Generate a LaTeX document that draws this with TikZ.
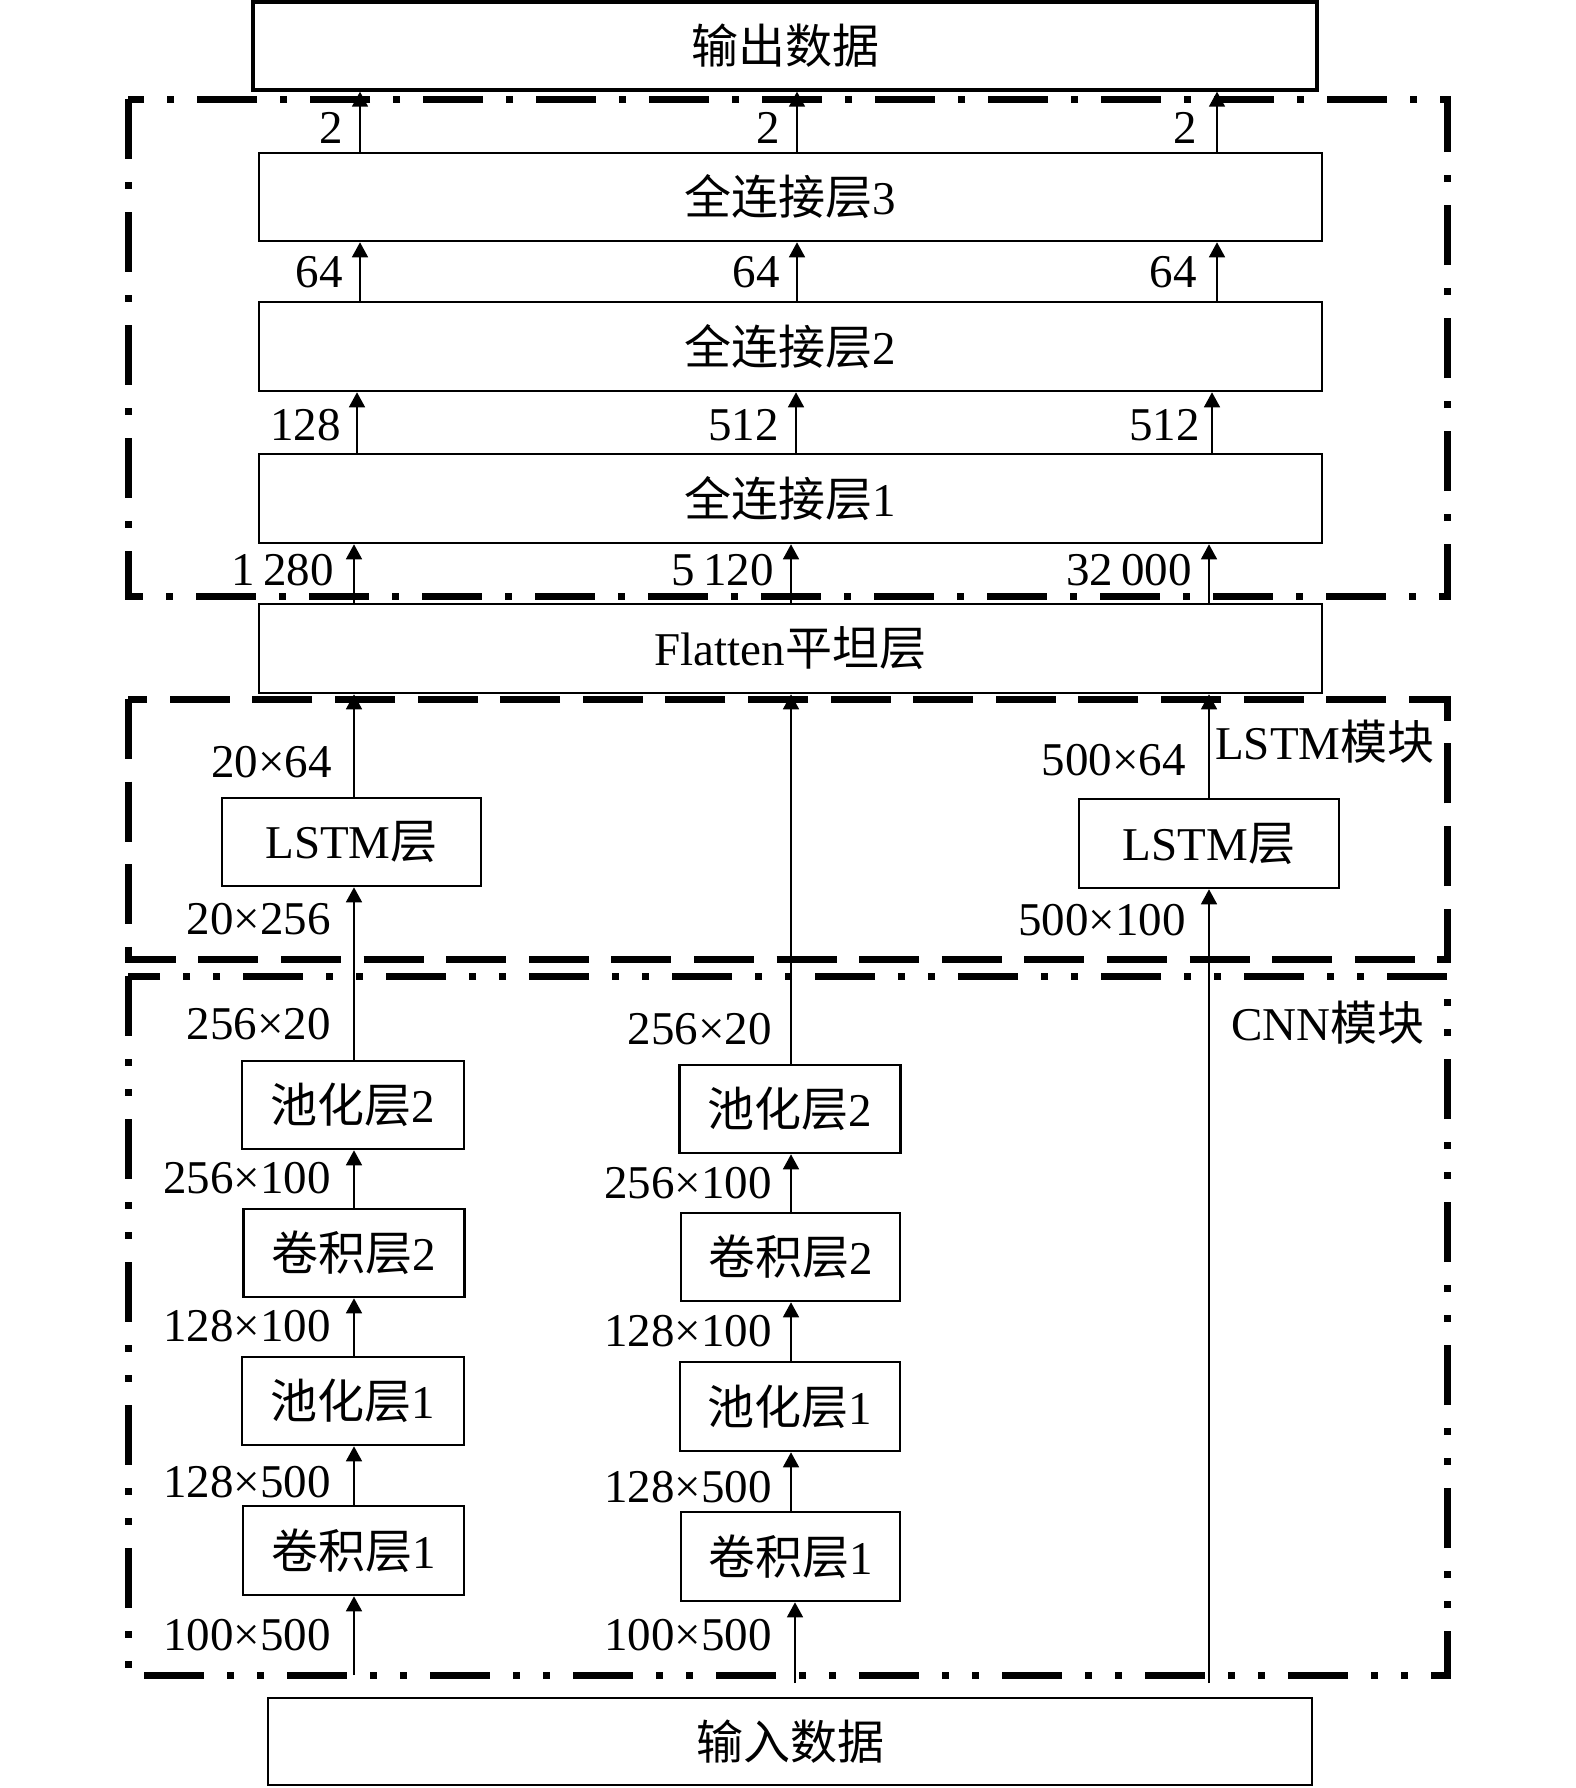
\documentclass[tikz,border=0pt]{standalone}
\usepackage{fontspec}
\setmainfont{Liberation Serif}
\newfontfamily\cjk{Noto Sans CJK SC}
\usetikzlibrary{arrows.meta}
\begin{document}
\begin{tikzpicture}[x=1pt,y=-1pt,
  box/.style={draw, line width=2.6pt, inner sep=0pt, font=\fontsize{47}{56}\selectfont},
  bigbox/.style={box, line width=3.4pt},
  lbl/.style={anchor=base east, inner sep=0pt, font=\fontsize{47}{56}\selectfont},
  tag/.style={anchor=base west, inner sep=0pt, font=\fontsize{47}{56}\selectfont},
  arr/.style={line width=1.6pt, -{Triangle[length=15pt,width=16pt]}},
  frameDD/.style={line width=7pt, dash pattern=on 60pt off 23pt on 7pt off 23pt},
  frameDash/.style={line width=7pt, dash pattern=on 60pt off 22.6pt},
  frameDDD/.style={line width=7pt, dash pattern=on 60pt off 23pt on 7pt off 23pt on 7pt off 23pt},
]
\useasboundingbox (0,0) rectangle (1575,1788);

% frames
\draw[frameDD] (128,99) rectangle (1447,596);
\draw[frameDash] (128,699) rectangle (1447,959);
\draw[frameDDD] (128,976) rectangle (1447,1675);

% main boxes
\node[bigbox, minimum width=1064pt, minimum height=88pt] (out) at (785,46) {{\cjk 输出数据}};
\node[box, minimum width=1063pt, minimum height=88pt] (fc3) at (790.5,197) {{\cjk 全连接层}3};
\node[box, minimum width=1063pt, minimum height=89pt] (fc2) at (790.5,346.5) {{\cjk 全连接层}2};
\node[box, minimum width=1063pt, minimum height=89pt] (fc1) at (790.5,498.5) {{\cjk 全连接层}1};
\node[box, minimum width=1063pt, minimum height=89pt] (flat) at (790.5,648.5) {Flatten{\cjk 平坦层}};
\node[box, minimum width=1044pt, minimum height=87pt] (in) at (790,1741.5) {{\cjk 输入数据}};

% LSTM boxes
\node[box, minimum width=259pt, minimum height=88pt] (lstmL) at (351.5,842) {LSTM{\cjk 层}};
\node[box, minimum width=260pt, minimum height=89pt] (lstmR) at (1209,843.5) {LSTM{\cjk 层}};

% CNN left column
\node[box, minimum width=222pt, minimum height=88pt] (poolTwoL) at (353,1105) {{\cjk 池化层}2};
\node[box, minimum width=221pt, minimum height=88pt] (convTwoL) at (354,1253) {{\cjk 卷积层}2};
\node[box, minimum width=222pt, minimum height=88pt] (poolOneL) at (353,1401) {{\cjk 池化层}1};
\node[box, minimum width=221pt, minimum height=89pt] (convOneL) at (353.5,1550.5) {{\cjk 卷积层}1};
% CNN middle column
\node[box, minimum width=221pt, minimum height=88pt] (poolTwoM) at (790,1109) {{\cjk 池化层}2};
\node[box, minimum width=219pt, minimum height=88pt] (convTwoM) at (790.5,1257) {{\cjk 卷积层}2};
\node[box, minimum width=220pt, minimum height=89pt] (poolOneM) at (790,1406.5) {{\cjk 池化层}1};
\node[box, minimum width=219pt, minimum height=89pt] (convOneM) at (790.5,1556.5) {{\cjk 卷积层}1};

% column coordinates
\coordinate (ca) at (360,0);  \coordinate (cb) at (797,0);  \coordinate (cc) at (1217,0);
\coordinate (da) at (357,0);  \coordinate (db) at (796,0);  \coordinate (dc) at (1212,0);
\coordinate (ea) at (354,0);  \coordinate (eb) at (791,0);  \coordinate (ec) at (1209,0);
\coordinate (startL) at (354,1675);
\coordinate (startM) at (795,1683);
\coordinate (startR) at (1209,1683);

% FC arrows
\foreach \c in {ca,cb,cc}{
  \draw[arr] (fc3.north -| \c) -- (out.south -| \c);
  \draw[arr] (fc2.north -| \c) -- (fc3.south -| \c);
}
\foreach \c in {da,db,dc}{
  \draw[arr] (fc1.north -| \c) -- (fc2.south -| \c);
}
\foreach \c in {ea,eb,ec}{
  \draw[arr] (flat.north -| \c) -- (fc1.south -| \c);
}

% left column arrows
\draw[arr] (lstmL.north -| ea) -- (flat.south -| ea);
\draw[arr] (poolTwoL.north -| ea) -- (lstmL.south -| ea);
\draw[arr] (convTwoL.north -| ea) -- (poolTwoL.south -| ea);
\draw[arr] (poolOneL.north -| ea) -- (convTwoL.south -| ea);
\draw[arr] (convOneL.north -| ea) -- (poolOneL.south -| ea);
\draw[arr] (startL) -- (convOneL.south -| startL);

% middle column arrows
\draw[arr] (poolTwoM.north -| eb) -- (flat.south -| eb);
\draw[arr] (convTwoM.north -| eb) -- (poolTwoM.south -| eb);
\draw[arr] (poolOneM.north -| eb) -- (convTwoM.south -| eb);
\draw[arr] (convOneM.north -| eb) -- (poolOneM.south -| eb);
\draw[arr] (startM) -- (convOneM.south -| startM);

% right column arrows
\draw[arr] (startR) -- (lstmR.south -| ec);
\draw[arr] (lstmR.north -| ec) -- (flat.south -| ec);

% FC labels
\node[lbl] (l2a) at (343,143) {2};
\node[lbl] (l2b) at (780,143) {2};
\node[lbl] (l2c) at (1197,143) {2};
\node[lbl] (l64a) at (343,287) {64};
\node[lbl] (l64b) at (780,287) {64};
\node[lbl] (l64c) at (1197,287) {64};
\node[lbl] (l128a) at (341,440) {128};
\node[lbl] (l512b) at (779,440) {512};
\node[lbl] (l512c) at (1200,440) {512};
\node[lbl] (l1280) at (334,585) {1\,280};
\node[lbl] (l5120) at (774,585) {5\,120};
\node[lbl] (l32000) at (1192,585) {32\,000};

% LSTM labels
\node[lbl] (lstmLo) at (332,777) {20×64};
\node[lbl] (lstmLi) at (331,934) {20×256};
\node[lbl] (lstmRo) at (1186,775) {500×64};
\node[lbl] (lstmRi) at (1186,935) {500×100};
\node[tag] (lstmTag) at (1215,759) {LSTM{\cjk 模块}};
\node[tag] (cnnTag) at (1231,1040) {CNN{\cjk 模块}};

% CNN labels left
\node[lbl] (cl1) at (331,1039) {256×20};
\node[lbl] (cl2) at (331,1193) {256×100};
\node[lbl] (cl3) at (331,1341) {128×100};
\node[lbl] (cl4) at (331,1497) {128×500};
\node[lbl] (cl5) at (331,1650) {100×500};
% CNN labels middle
\node[lbl] (cm1) at (772,1044) {256×20};
\node[lbl] (cm2) at (772,1198) {256×100};
\node[lbl] (cm3) at (772,1346) {128×100};
\node[lbl] (cm4) at (772,1502) {128×500};
\node[lbl] (cm5) at (772,1650) {100×500};
\end{tikzpicture}
\end{document}
